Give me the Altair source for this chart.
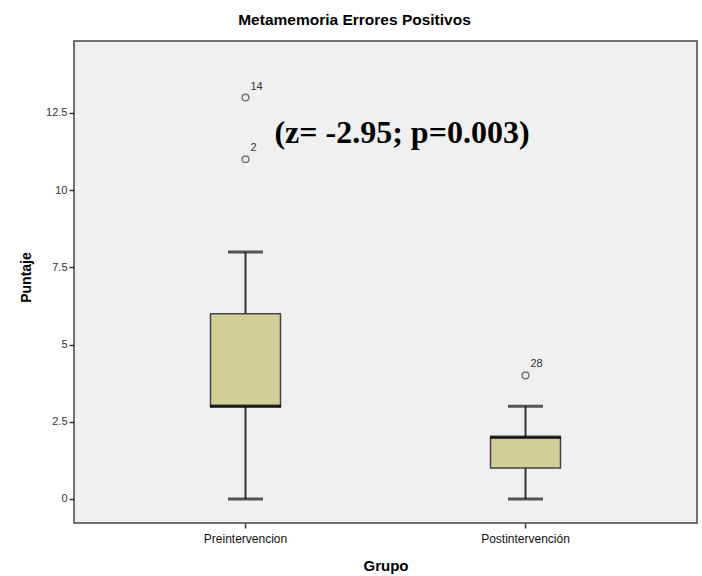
import altair as alt
import pandas as pd

# ---- data ----
groups = ["Preintervencion", "Postintervención"]
whisker_low = [0, 0]
q1 = [3, 1]
medians = [3, 2]
q3 = [6, 2]
whisker_high = [8, 3]

outlier_groups = ["Preintervencion", "Preintervencion", "Postintervención"]
outlier_values = [13, 11, 4]
outlier_ids = ["14", "2", "28"]

annotation_text = ["(z= -2.95; p=0.003)"]
annotation_y = [11.85]

box_df = pd.DataFrame({
    "Grupo": groups, "lo": whisker_low, "q1": q1, "med": medians,
    "q3": q3, "hi": whisker_high,
})
out_df = pd.DataFrame({"Grupo": outlier_groups, "v": outlier_values, "id": outlier_ids})
ann_df = pd.DataFrame({"t": annotation_text, "y": annotation_y})

FONT = "Liberation Sans"
yscale = alt.Scale(domain=[-0.78, 14.83], nice=False, zero=False)
xscale = alt.Scale(domain=groups, paddingInner=0.75, paddingOuter=0.4875)

xenc = alt.X("Grupo:N", scale=xscale, sort=groups, title="Grupo",
             axis=alt.Axis(labelAngle=0, domain=False, tickSize=5, tickColor="#333",
                           tickWidth=1.5, labelFontSize=12, labelColor="#111",
                           labelFont=FONT, labelPadding=5, titleFont=FONT,
                           titleFontSize=15, titleFontWeight="bold", titleColor="#000",
                           titlePadding=14))
yaxis = alt.Axis(values=[0, 2.5, 5, 7.5, 10, 12.5], labelExpr="datum.value + ''",
                 domain=False, grid=False, tickSize=5, tickColor="#333", tickWidth=1.5,
                 labelFontSize=11, labelColor="#333", labelFont=FONT, labelPadding=2,
                 title="Puntaje", titleFont=FONT, titleFontSize=14,
                 titleFontWeight="bold", titleColor="#000", titleX=-41, titleY=236)

base = alt.Chart(box_df)

whisk = base.mark_rule(color="#333", strokeWidth=2).encode(
    x=xenc, y=alt.Y("lo:Q", scale=yscale, axis=yaxis), y2="hi:Q")
box = base.mark_bar(fill="#D3CF98", stroke="#444", strokeWidth=1.5).encode(
    x=alt.X("Grupo:N", scale=xscale, sort=groups), y=alt.Y("q1:Q", scale=yscale), y2="q3:Q")
cap_lo = base.mark_tick(color="#111", thickness=3, size=35).encode(
    x=alt.X("Grupo:N", scale=xscale, sort=groups), y=alt.Y("lo:Q", scale=yscale))
cap_hi = base.mark_tick(color="#111", thickness=3, size=35).encode(
    x=alt.X("Grupo:N", scale=xscale, sort=groups), y=alt.Y("hi:Q", scale=yscale))
med = base.mark_tick(color="#000", thickness=3.5, size=71).encode(
    x=alt.X("Grupo:N", scale=xscale, sort=groups), y=alt.Y("med:Q", scale=yscale))

pts = alt.Chart(out_df).mark_point(shape="circle", filled=False, size=45,
                                   stroke="#444", strokeWidth=1.5).encode(
    x=alt.X("Grupo:N", scale=xscale, sort=groups), y=alt.Y("v:Q", scale=yscale))
lbl = alt.Chart(out_df).mark_text(dx=5, dy=-11, align="left", fontSize=11, font=FONT,
                                  color="#333").encode(
    x=alt.X("Grupo:N", scale=xscale, sort=groups), y=alt.Y("v:Q", scale=yscale), text="id:N")

ann = alt.Chart(ann_df).mark_text(font="Liberation Serif", fontWeight="bold", fontSize=32,
                                  align="center", baseline="middle", color="#000").encode(
    x=alt.value(328), y=alt.Y("y:Q", scale=yscale), text="t:N")

chart = alt.layer(whisk, box, cap_lo, cap_hi, med, pts, lbl, ann).properties(
    width=623, height=482,
    title=alt.TitleParams("Metamemoria Errores Positivos", font=FONT, fontSize=15.5,
                          fontWeight="bold", color="#000", anchor="middle", dx=-31,
                          offset=13),
    autosize=alt.AutoSizeParams(type="none"),
    padding={"left": 74, "top": 41, "right": 5, "bottom": 53},
    background="white",
).configure_view(fill="#F0F0F0", stroke="#444", strokeWidth=1.5)

chart.save("out.html", embed_options={"renderer": "svg", "actions": False})
